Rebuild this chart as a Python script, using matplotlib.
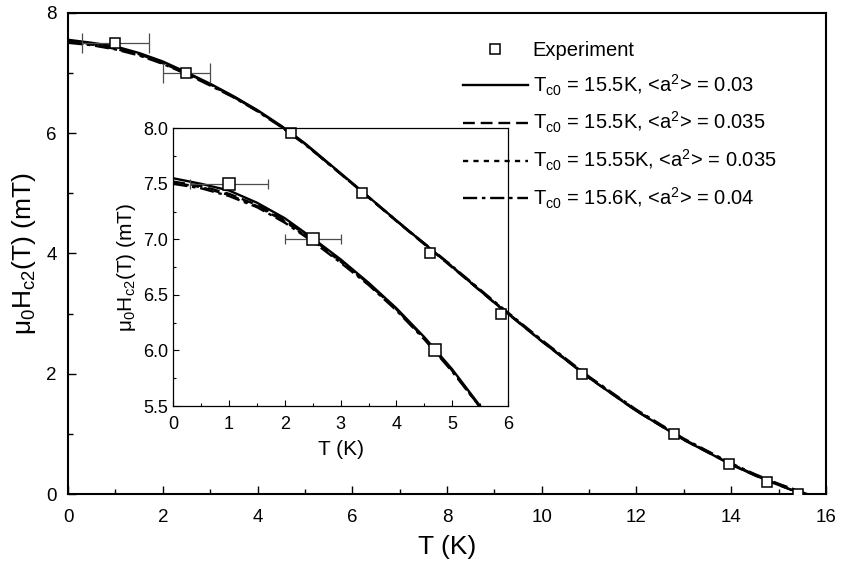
import matplotlib
matplotlib.use("Agg")
import matplotlib.pyplot as plt
from matplotlib.ticker import MultipleLocator

plt.rcParams['font.family'] = ['Liberation Sans', 'DejaVu Sans']
plt.rcParams['mathtext.fontset'] = 'custom'
plt.rcParams['mathtext.rm'] = 'Liberation Sans'
plt.rcParams['mathtext.it'] = 'Liberation Sans:italic'

# experiment
t_exp = [1.0, 2.5, 4.7, 6.2, 7.65, 9.15, 10.85, 12.8, 13.95, 14.75, 15.4]
h_exp = [7.5, 7.0, 6.0, 5.0, 4.0, 3.0, 2.0, 1.0, 0.5, 0.2, 0.0]
t_err = [0.7, 0.5, 0, 0, 0, 0, 0, 0, 0, 0, 0]

# fit curves
t_fit = [0, 0.5, 1, 1.5, 2, 2.5, 3, 3.5, 4, 4.5, 5, 5.5, 6, 7, 8, 9, 10,
         11, 12, 13, 14, 14.5, 15]
h_fit1 = [7.55, 7.50, 7.44, 7.33, 7.19, 7.01, 6.82, 6.61, 6.38, 6.12, 5.83,
          5.50, 5.17, 4.50, 3.85, 3.18, 2.54, 1.93, 1.38, 0.90, 0.49, 0.31, 0.15]
h_fit2 = [7.52, 7.48, 7.41, 7.31, 7.17, 7.00, 6.81, 6.60, 6.37, 6.11, 5.82,
          5.49, 5.16, 4.49, 3.84, 3.18, 2.54, 1.93, 1.38, 0.90, 0.49, 0.31, 0.15]
h_fit3 = [7.51, 7.47, 7.40, 7.30, 7.16, 6.99, 6.80, 6.60, 6.37, 6.11, 5.82,
          5.49, 5.16, 4.50, 3.85, 3.19, 2.55, 1.94, 1.39, 0.91, 0.50, 0.32, 0.16]
h_fit4 = [7.50, 7.46, 7.39, 7.29, 7.15, 6.98, 6.79, 6.59, 6.36, 6.10, 5.81,
          5.49, 5.16, 4.50, 3.86, 3.20, 2.56, 1.95, 1.40, 0.92, 0.51, 0.33, 0.17]
tc0 = [15.5, 15.5, 15.55, 15.6]

labels = [r'$\mathregular{T_{c0}}$ = 15.5K, <a$^{\mathregular{2}}$> = 0.03',
          r'$\mathregular{T_{c0}}$ = 15.5K, <a$^{\mathregular{2}}$> = 0.035',
          r'$\mathregular{T_{c0}}$ = 15.55K, <a$^{\mathregular{2}}$> = 0.035',
          r'$\mathregular{T_{c0}}$ = 15.6K, <a$^{\mathregular{2}}$> = 0.04']
styles = ['-', (0, (5, 2.5)), (0, (2.2, 2.2)), (0, (6, 2, 1.5, 2))]
curves = [h_fit1, h_fit2, h_fit3, h_fit4]

# only the first points carry a horizontal error bar
err_idx = [i for i, e in enumerate(t_err) if e > 0]
t_e = [t_exp[i] for i in err_idx]
h_e = [h_exp[i] for i in err_idx]
x_e = [t_err[i] for i in err_idx]

fig = plt.figure(figsize=(8.43, 5.70), dpi=100)
ax = fig.add_axes([0.0807, 0.1333, 0.8991, 0.8444])
ins = fig.add_axes([0.2056, 0.2877, 0.3970, 0.4872])
ins.set_facecolor('none')


def draw(a, cap, ms):
    for h, tc, ls, lab in zip(curves, tc0, styles, labels):
        a.plot(t_fit + [tc], h + [0.0], color='black', lw=1.7, ls=ls, label=lab)
    a.errorbar(t_e, h_e, xerr=x_e, fmt='none', ecolor='0.3', elinewidth=0.9,
               capsize=cap, capthick=0.9, zorder=4)
    a.plot(t_exp, h_exp, 's', mfc='white', mec='black', ms=ms, mew=1.1,
           label='Experiment', zorder=5)


draw(ax, 7, 7)
draw(ins, 3.5, 8)

ax.set_xlim(0, 16)
ax.set_ylim(0, 8)
ax.xaxis.set_major_locator(MultipleLocator(2))
ax.xaxis.set_minor_locator(MultipleLocator(1))
ax.yaxis.set_major_locator(MultipleLocator(2))
ax.yaxis.set_minor_locator(MultipleLocator(1))
ax.tick_params(which='both', direction='in', top=False, right=False)
ax.tick_params(which='major', length=6, width=1.0, labelsize=13.5)
ax.tick_params(axis='x', which='major', pad=11)
ax.tick_params(axis='y', which='major', pad=8)
ax.tick_params(which='minor', length=3.5, width=1.0)
for s in ax.spines.values():
    s.set_linewidth(1.5)
ax.set_xlabel('T (K)', fontsize=19, labelpad=6)
ax.set_ylabel(r'$\mathregular{μ_0H_{c2}(T)}$ (mT)', fontsize=19, labelpad=6)

ins.set_xlim(0, 6)
ins.set_ylim(5.5, 8.0)
ins.xaxis.set_major_locator(MultipleLocator(1))
ins.xaxis.set_minor_locator(MultipleLocator(0.5))
ins.yaxis.set_minor_locator(MultipleLocator(0.25))
ins.set_yticks([5.5, 6.0, 6.5, 7.0, 7.5, 8.0])
ins.set_yticklabels(['5.5', '6.0', '6.5', '7.0', '7.5', '8.0'])
ins.tick_params(which='both', direction='in', top=False, right=False)
ins.tick_params(which='major', length=4, width=0.8, labelsize=13)
ins.tick_params(axis='x', which='major', pad=7)
ins.tick_params(axis='y', which='major', pad=4)
ins.tick_params(which='minor', length=2.5, width=0.8)
for s in ins.spines.values():
    s.set_linewidth(0.9)
ins.set_xlabel('T (K)', fontsize=15, labelpad=5)
ins.set_ylabel(r'$\mathregular{μ_0H_{c2}(T)}$ (mT)', fontsize=15, labelpad=3)

handles, labs = ax.get_legend_handles_labels()
order = [4, 0, 1, 2, 3]
leg = ax.legend([handles[i] for i in order], [labs[i] for i in order],
                loc='upper left', bbox_to_anchor=(455 / 843, 1 - 33 / 570),
                bbox_transform=fig.transFigure, frameon=False, fontsize=14.5,
                handlelength=3.2, handletextpad=0.25, labelspacing=0.62,
                borderaxespad=0)

fig.savefig('out.png', dpi=100)
